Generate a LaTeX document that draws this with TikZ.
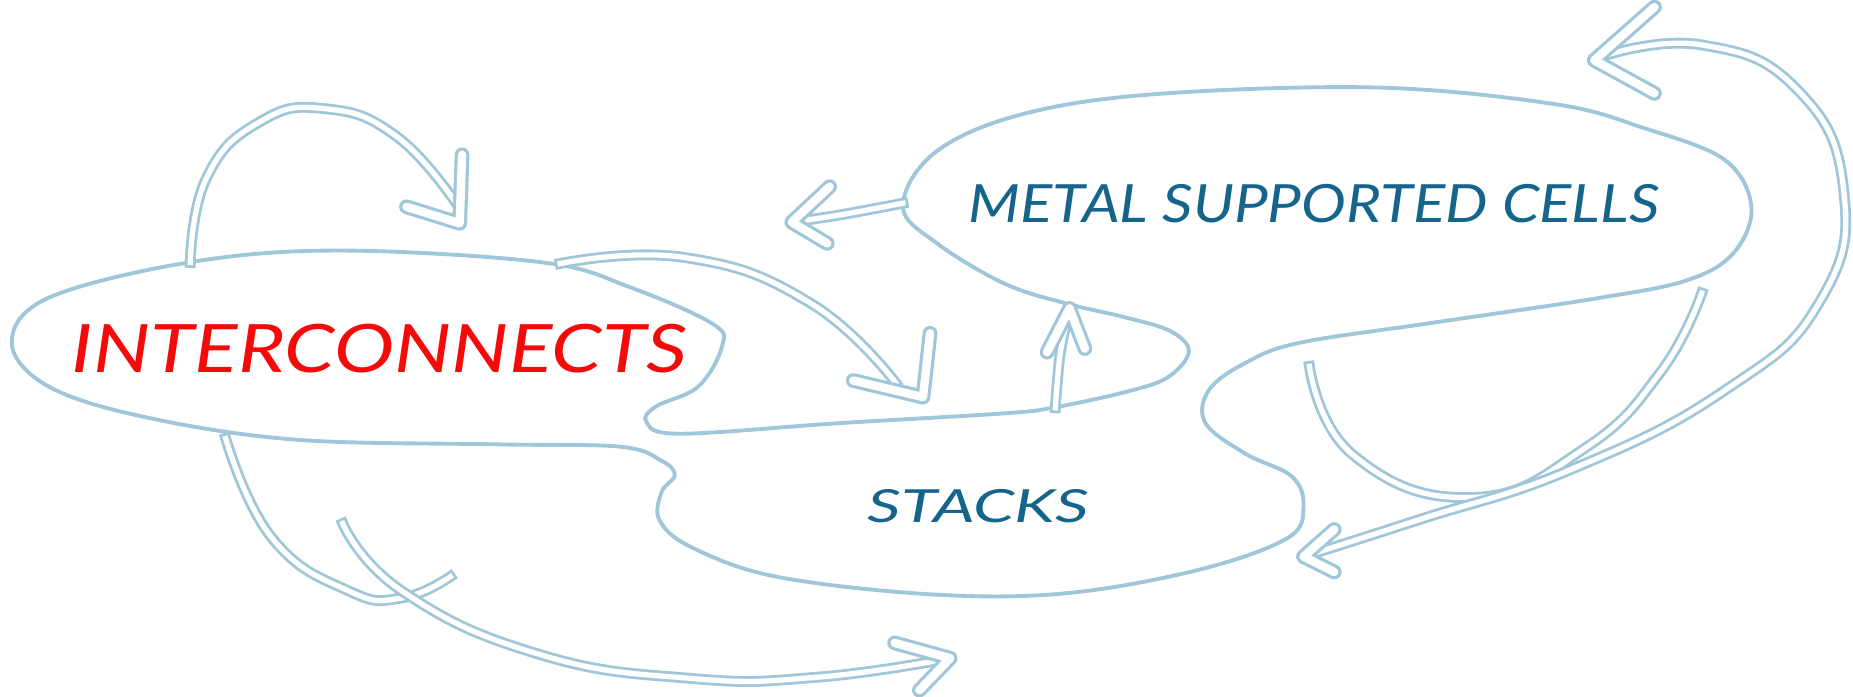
\documentclass[tikz,border=0pt]{standalone}
\usepackage{fontspec}
\setmainfont{Lato}

\definecolor{sketchblue}{RGB}{160,198,217}
\definecolor{labelblue}{RGB}{20,100,140}
\definecolor{labelred}{RGB}{245,10,10}

\tikzset{
  outline/.style={draw=sketchblue, line width=1.1pt, line join=round},
  shaft/.style={draw=sketchblue, line width=0.8pt, double=white, double distance=1.5pt, line cap=rect},
  headline/.style={draw=sketchblue, line width=0.9pt, double=white, double distance=2.4pt, line cap=round, line join=round},
  zone/.style={font=\itshape, text=labelblue, inner sep=0pt},
}

\begin{document}
\begin{tikzpicture}[x=1.182cm, y=-1.182cm]

    \useasboundingbox (0,0) rectangle (15.68,5.89);

    % 1. One hand-drawn outline round the three areas
    \draw[outline]
        plot[smooth cycle, tension=0.6] coordinates {
            (4.59,2.22) (5.33,2.43) (6.03,2.74) (6.11,2.93) (5.91,3.27)
            (5.55,3.44) (5.47,3.57) (5.75,3.67) (7.11,3.58) (8.46,3.50)
            (8.91,3.45) (9.59,3.30) (9.90,3.18) (10.06,2.97) (9.90,2.80)
            (9.50,2.68) (9.03,2.57) (8.50,2.40) (7.93,2.06) (7.64,1.75)
            (7.90,1.30) (8.60,0.98) (9.73,0.80) (11.63,0.74) (13.15,0.88)
            (13.90,1.08) (14.59,1.35) (14.82,1.75) (14.67,2.14) (14.28,2.37)
            (13.54,2.52) (12.13,2.73) (11.00,2.90) (10.54,3.07) (10.23,3.30)
            (10.20,3.58) (10.54,3.84) (10.93,4.03) (11.03,4.28) (10.90,4.55)
            (10.15,4.82) (9.02,5.02) (7.89,5.03) (6.57,4.88) (5.85,4.63)
            (5.58,4.40) (5.60,4.16) (5.71,4.02) (5.60,3.90) (5.25,3.78)
            (4.20,3.76) (2.50,3.72) (1.23,3.53) (0.41,3.27) (0.10,2.90)
            (0.41,2.52) (1.60,2.22) (2.87,2.12)
        };

    % 2. Labels
    \node[zone, text=labelred, font=\fontsize{19}{22}\selectfont\itshape, xscale=1.21] (ic) at (3.21,2.95) {INTERCONNECTS};
    \node[zone, font=\fontsize{15}{18}\selectfont\itshape, xscale=1.14] (msc) at (11.12,1.72) {METAL SUPPORTED CELLS};
    \node[zone, font=\fontsize{13}{15}\selectfont\itshape, xscale=1.45] (stk) at (8.28,4.28) {STACKS};

    % 3. Ends of the arrows
    \coordinate (icTop) at (1.61,2.22);
    \coordinate (icRight) at (4.74,2.23);
    \coordinate (icBottom) at (1.91,3.71);
    \coordinate (mscLeft) at (7.64,1.72);
    \coordinate (lobeBottom) at (8.93,3.45);
    \coordinate (stkArm) at (11.08,3.10);
    \coordinate (mscArm) at (14.40,2.48);
    \coordinate (tipLoop) at (3.89,1.89);
    \coordinate (tipLobe) at (7.81,3.36);
    \coordinate (tipLeft) at (6.70,1.88);
    \coordinate (tipUp) at (9.05,2.61);
    \coordinate (tipBottom) at (8.04,5.57);
    \coordinate (tipTop) at (13.49,0.51);
    \coordinate (tipStk) at (11.03,4.71);

    % 4. Shafts (double strokes)
    \draw[shaft] plot[smooth, tension=0.8] coordinates {
        (icTop) (1.75,1.50) (2.20,1.03) (2.75,0.92) (3.35,1.15) (3.86,1.72)};
    \draw[shaft] plot[smooth, tension=0.8] coordinates {
        (icRight) (5.80,2.18) (6.85,2.56) (7.58,3.24)};
    \draw[shaft] plot[smooth] coordinates {
        (mscLeft) (7.10,1.82) (tipLeft)};
    \draw[shaft] plot[smooth] coordinates {
        (lobeBottom) (8.97,3.00) (tipUp)};
    \draw[shaft] plot[smooth, tension=0.8] coordinates {
        (icBottom) (2.30,4.55) (2.95,5.00) (3.40,5.06) (3.81,4.88)};
    \draw[shaft] plot[smooth, tension=0.8] coordinates {
        (2.90,4.43) (3.40,5.00) (4.54,5.53) (5.84,5.74) (6.92,5.73) (tipBottom)};
    \draw[shaft] plot[smooth, tension=0.8] coordinates {
        (stkArm) (11.45,3.85) (12.45,4.21) (13.40,3.80) (14.05,3.15) (mscArm)};
    \draw[shaft] plot[smooth, tension=0.8] coordinates {
        (13.58,0.47) (14.40,0.38) (15.20,0.75) (15.60,1.60) (15.40,2.55)
        (14.60,3.30) (13.30,3.97) (12.00,4.40) (tipStk)};

    % 5. Open arrow heads
    \draw[headline] (3.91,1.31) -- (tipLoop) -- (3.44,1.75);
    \draw[headline] (7.22,3.22) -- (tipLobe) -- (7.87,2.82);
    \draw[headline] (7.02,1.58) -- (tipLeft) -- (7.00,2.06);
    \draw[headline] (8.86,2.98) -- (tipUp) -- (9.18,2.95);
    \draw[headline] (7.57,5.44) -- (tipBottom) -- (7.78,5.84);
    \draw[headline] (14.00,0.06) -- (tipTop) -- (14.00,0.79);
    \draw[headline] (11.29,4.48) -- (tipStk) -- (11.29,4.84);

\end{tikzpicture}
\end{document}
